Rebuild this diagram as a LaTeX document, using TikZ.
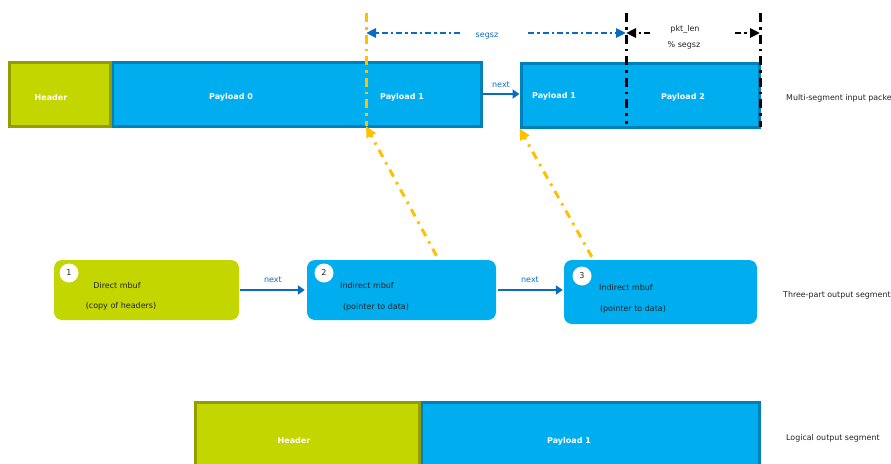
\documentclass[tikz,border=0pt]{standalone}
\usepackage{fontspec}
\setmainfont{DejaVu Sans}
\usetikzlibrary{arrows.meta,positioning}
\definecolor{olivefill}{HTML}{C4D600}
\definecolor{oliveline}{HTML}{939D00}
\definecolor{cyanfill}{HTML}{00AEEF}
\definecolor{cyanline}{HTML}{0080B8}
\definecolor{linkblue}{HTML}{0A6BC2}
\definecolor{ptryellow}{HTML}{FFC000}
\definecolor{darktext}{HTML}{222222}

\tikzset{
  hdrbox/.style={draw=oliveline, fill=olivefill, line width=3pt, inner sep=0pt},
  paybox/.style={draw=cyanline, fill=cyanfill, line width=3pt, inner sep=0pt},
  segtext/.style={text=white, font=\fontsize{8}{9}\selectfont\bfseries},
  mbuf/.style={rounded corners=8pt, inner sep=0pt},
  numdot/.style={circle, fill=white, minimum size=19pt, inner sep=0pt, text=darktext, font=\fontsize{8}{9}\selectfont},
  mtext/.style={text=darktext, font=\fontsize{8}{9}\selectfont},
  sidetext/.style={text=darktext, anchor=west, inner sep=0pt, font=\fontsize{7.9}{9}\selectfont},
  nextlabel/.style={text=linkblue, font=\fontsize{8}{9}\selectfont},
  nextarrow/.style={linkblue, line width=2.6pt, -{Triangle[length=7pt,width=9pt]}},
  ptrarrow/.style={ptryellow, line width=3pt, dash pattern=on 8pt off 6pt on 2.5pt off 6pt, -{Triangle[length=11pt,width=10pt]}},
  cutyellow/.style={ptryellow, line width=3pt, dash pattern=on 9pt off 5pt on 2.5pt off 5pt},
  cutblack/.style={black, line width=3pt, dash pattern=on 9pt off 5pt on 2.5pt off 5pt},
  dimblue/.style={linkblue, line width=2.5pt, dash pattern=on 6pt off 3pt on 2.5pt off 3pt, -{Triangle[length=10pt,width=9pt]}},
  dimblack/.style={black, line width=2.5pt, dash pattern=on 6pt off 3pt on 2.5pt off 3pt, -{Triangle[length=10pt,width=9pt]}},
}

\begin{document}
\begin{tikzpicture}[x=1pt, y=-1pt]
    \useasboundingbox (0,0) rectangle (891,463);

    % input packet, first segment
    \node[paybox, minimum width=369pt, minimum height=64pt] (inPayA) at (296.5,94) {};
    \node[hdrbox, minimum width=101pt, minimum height=64pt] (inHdr) at (59.5,94) {};
    \node[segtext] (lblHdrA) at (51,98) {Header};
    \node[segtext] (lblPay0) at (231,97) {Payload 0};
    \node[segtext] (lblPay1A) at (402,97) {Payload 1};

    % input packet, second segment
    \node[paybox, minimum width=238pt, minimum height=64pt] (inPayB) at (640,95) {};
    \node[segtext] (lblPay1B) at (554,96) {Payload 1};
    \node[segtext] (lblPay2) at (683,97) {Payload 2};
    \draw[nextarrow] (inPayA.east) -- (inPayA.east -| inPayB.west) node[nextlabel, midway, above=2pt] (nextTop) {next};

    % cut lines
    \coordinate (cutOneTop) at (366,13);
    \coordinate (cutOneBot) at (366,126);
    \coordinate (cutTwoTop) at (626,13);
    \coordinate (cutTwoBot) at (626,124);
    \coordinate (cutEndTop) at (760,13);
    \coordinate (cutEndBot) at (760,127);
    \draw[cutyellow] (cutOneTop) -- (cutOneBot);
    \draw[cutblack] (cutTwoTop) -- (cutTwoBot);
    \draw[cutblack] (cutEndTop) -- (cutEndBot);

    % segsz
    \coordinate (segszL) at (460,33);
    \coordinate (segszR) at (528,33);
    \node[nextlabel] (segsz) at (487,36) {segsz};
    \draw[dimblue] (segszL) -- (cutOneTop |- segszL);
    \draw[dimblue] (segszR) -- (cutTwoTop |- segszR);

    % pkt_len % segsz
    \coordinate (pktL) at (650,33);
    \coordinate (pktR) at (735,33);
    \node[mtext] (pktlen) at (685,29) {pkt\_len};
    \node[mtext] (pktmod) at (684,45) {\% segsz};
    \draw[dimblack] (pktL) -- (cutTwoTop |- pktL);
    \draw[dimblack] (pktR) -- (cutEndTop |- pktR);

    % output mbufs
    \node[mbuf, fill=olivefill, minimum width=185pt, minimum height=60pt] (mbufA) at (146.5,290) {};
    \node[numdot] (numA) at (69,273) {1};
    \node[mtext] (mbufAtop) at (117,286) {Direct mbuf};
    \node[mtext] (mbufAbot) at (121,306) {(copy of headers)};

    \node[mbuf, fill=cyanfill, minimum width=189pt, minimum height=60pt] (mbufB) at (401.5,290) {};
    \node[numdot] (numB) at (324,273) {2};
    \node[mtext] (mbufBtop) at (367,286) {Indirect mbuf};
    \node[mtext] (mbufBbot) at (376,307) {(pointer to data)};

    \node[mbuf, fill=cyanfill, minimum width=193pt, minimum height=64pt] (mbufC) at (660.5,292) {};
    \node[numdot] (numC) at (582,276) {3};
    \node[mtext] (mbufCtop) at (626,288) {Indirect mbuf};
    \node[mtext] (mbufCbot) at (633,309) {(pointer to data)};

    \draw[nextarrow, shorten <=1pt, shorten >=2pt] (mbufA.east) -- (mbufB.west) node[nextlabel, midway, above=3pt] (nextAB) {next};
    \draw[nextarrow, shorten <=2pt, shorten >=1pt] (mbufB.east) -- (mbufB.east -| mbufC.west) node[nextlabel, midway, above=3pt] (nextBC) {next};

    % pointers into the input packet
    \draw[ptrarrow] ([xshift=35pt,yshift=4pt]mbufB.north) -- (cutOneBot);
    \draw[ptrarrow] ([xshift=28pt,yshift=3pt]mbufC.north west) -- (inPayB.south west);

    % logical output segment
    \node[paybox, minimum width=338pt, minimum height=70pt] (outPay) at (590,437) {};
    \node[hdrbox, minimum width=224pt, minimum height=70pt] (outHdr) at (307,437) {};
    \node[segtext] (lblHdrB) at (294,441) {Header};
    \node[segtext] (lblPay1C) at (569,441) {Payload 1};

    % side labels
    \node[sidetext] (sideIn) at (786,98) {Multi-segment input packet};
    \node[sidetext] (sideThree) at (783,295) {Three-part output segment};
    \node[sidetext] (sideLog) at (786,438) {Logical output segment};
\end{tikzpicture}
\end{document}
